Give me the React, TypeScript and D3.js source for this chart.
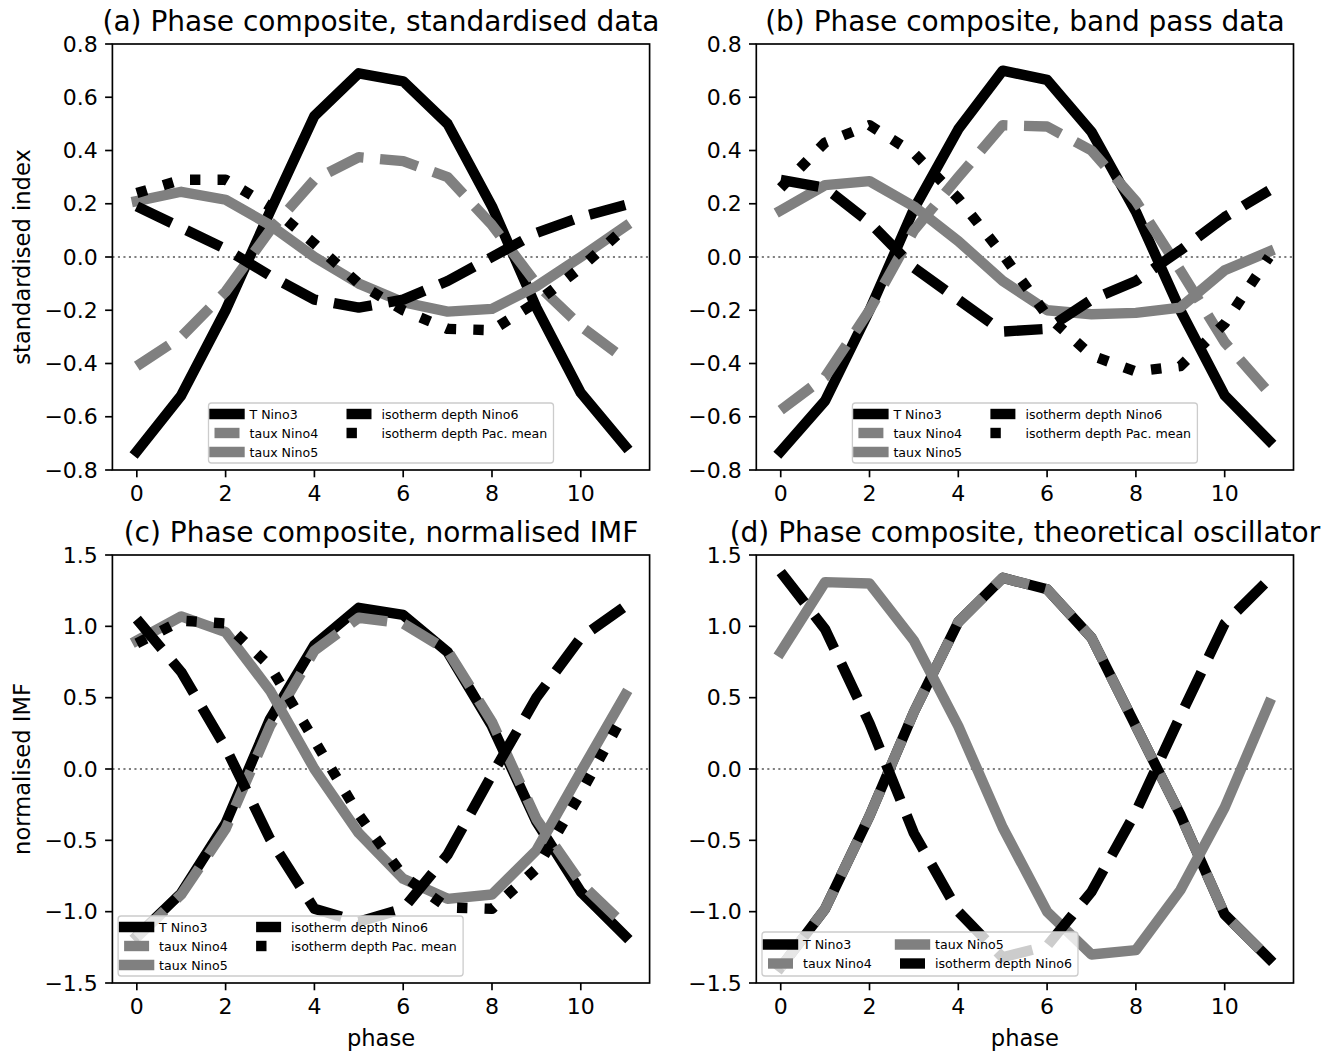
import React from 'react';
import * as d3 from 'd3';

// ---------------- data ----------------
const phases = [0, 1, 2, 3, 4, 5, 6, 7, 8, 9, 10, 11];
const xTicks = [0, 2, 4, 6, 8, 10];
const yTicksStd = [-0.8, -0.6, -0.4, -0.2, 0, 0.2, 0.4, 0.6, 0.8];
const yTicksImf = [-1.5, -1.0, -0.5, 0, 0.5, 1.0, 1.5];

const panelTitles = [
  '(a) Phase composite, standardised data',
  '(b) Phase composite, band pass data',
  '(c) Phase composite, normalised IMF',
  '(d) Phase composite, theoretical oscillator',
];

// (a) standardised data
const aTNino3 = [-0.73, -0.52, -0.2, 0.17, 0.53, 0.69, 0.66, 0.5, 0.19, -0.19, -0.51, -0.71];
const aTauxNino4 = [-0.41, -0.3, -0.13, 0.1, 0.29, 0.375, 0.36, 0.3, 0.12, -0.1, -0.26, -0.385];
const aTauxNino5 = [0.21, 0.245, 0.215, 0.12, 0.0, -0.1, -0.17, -0.205, -0.195, -0.11, 0.0, 0.115];
const aIsoNino6 = [0.19, 0.11, 0.03, -0.07, -0.16, -0.19, -0.16, -0.09, 0.0, 0.09, 0.15, 0.195];
const aIsoPac = [0.24, 0.29, 0.29, 0.19, 0.05, -0.1, -0.2, -0.27, -0.275, -0.17, -0.04, 0.11];

// (b) band pass data
const bTNino3 = [-0.73, -0.54, -0.2, 0.18, 0.48, 0.7, 0.665, 0.47, 0.17, -0.2, -0.52, -0.69];
const bTauxNino4 = [-0.575, -0.45, -0.2, 0.1, 0.3, 0.495, 0.49, 0.4, 0.21, -0.05, -0.32, -0.51];
const bTauxNino5 = [0.175, 0.27, 0.285, 0.19, 0.06, -0.09, -0.2, -0.215, -0.21, -0.19, -0.05, 0.02];
const bIsoNino6 = [0.29, 0.26, 0.13, -0.04, -0.16, -0.28, -0.27, -0.16, -0.09, 0.025, 0.15, 0.25];
const bIsoPac = [0.26, 0.43, 0.495, 0.39, 0.22, 0.01, -0.22, -0.37, -0.43, -0.41, -0.25, 0.0];

// (c) normalised IMF
const cTNino3 = [-1.17, -0.87, -0.38, 0.35, 0.87, 1.13, 1.08, 0.82, 0.3, -0.37, -0.86, -1.17];
const cTauxNino4 = [-1.18, -0.88, -0.42, 0.3, 0.83, 1.06, 1.02, 0.83, 0.33, -0.35, -0.8, -1.1];
const cTauxNino5 = [0.9, 1.07, 0.96, 0.55, 0.0, -0.45, -0.77, -0.91, -0.88, -0.57, -0.02, 0.52];
const cIsoNino6 = [1.05, 0.68, 0.15, -0.49, -0.98, -1.07, -0.98, -0.6, -0.04, 0.5, 0.92, 1.14];
const cIsoPac = [0.88, 1.04, 1.02, 0.72, 0.2, -0.32, -0.75, -0.97, -0.98, -0.7, -0.17, 0.4];

// (d) theoretical oscillator
const dTNino3 = [-1.39, -0.98, -0.33, 0.4, 1.03, 1.34, 1.26, 0.92, 0.3, -0.32, -1.02, -1.33];
const dTauxNino4 = [-1.39, -0.98, -0.33, 0.4, 1.03, 1.34, 1.26, 0.92, 0.3, -0.32, -1.02, -1.33];
const dTauxNino5 = [0.82, 1.31, 1.3, 0.9, 0.3, -0.41, -1.0, -1.3, -1.27, -0.85, -0.27, 0.46];
const dIsoNino6 = [1.38, 0.98, 0.32, -0.45, -1.0, -1.32, -1.24, -0.86, -0.3, 0.37, 1.02, 1.33];

// ---------------- styles ----------------
const LW = 10.4;
const FONT = '"DejaVu Sans", Verdana, sans-serif';
type StyleKey = 'T' | 'T4' | 'T5' | 'H6' | 'HP';
const styles: Record<StyleKey, { label: string; color: string; dash: string | null }> = {
  T: { label: 'T Nino3', color: '#000000', dash: null },
  T4: { label: 'taux Nino4', color: '#808080', dash: `${3.7 * LW} ${1.6 * LW}` },
  T5: { label: 'taux Nino5', color: '#808080', dash: null },
  H6: { label: 'isotherm depth Nino6', color: '#000000', dash: `${3.7 * LW} ${1.6 * LW}` },
  HP: { label: 'isotherm depth Pac. mean', color: '#000000', dash: `${1 * LW} ${1.65 * LW}` },
};

type Panel = {
  title: string;
  ylabel?: string;
  xlabel?: string;
  yDomain: [number, number];
  yTicks: number[];
  series: { key: StyleKey; values: number[] }[];
  legendLoc: 'lower center' | 'lower left';
  legendCols: StyleKey[][];
  legendWidth: number;
  col: number;
  row: number;
};

const panels: Panel[] = [
  {
    title: panelTitles[0], ylabel: 'standardised index', yDomain: [-0.8, 0.8], yTicks: yTicksStd,
    series: [
      { key: 'T', values: aTNino3 }, { key: 'T4', values: aTauxNino4 }, { key: 'T5', values: aTauxNino5 },
      { key: 'H6', values: aIsoNino6 }, { key: 'HP', values: aIsoPac },
    ],
    legendLoc: 'lower center', legendCols: [['T', 'T4', 'T5'], ['H6', 'HP']], legendWidth: 345, col: 0, row: 0,
  },
  {
    title: panelTitles[1], yDomain: [-0.8, 0.8], yTicks: yTicksStd,
    series: [
      { key: 'T', values: bTNino3 }, { key: 'T4', values: bTauxNino4 }, { key: 'T5', values: bTauxNino5 },
      { key: 'H6', values: bIsoNino6 }, { key: 'HP', values: bIsoPac },
    ],
    legendLoc: 'lower center', legendCols: [['T', 'T4', 'T5'], ['H6', 'HP']], legendWidth: 345, col: 1, row: 0,
  },
  {
    title: panelTitles[2], ylabel: 'normalised IMF', xlabel: 'phase', yDomain: [-1.5, 1.5], yTicks: yTicksImf,
    series: [
      { key: 'T', values: cTNino3 }, { key: 'T4', values: cTauxNino4 }, { key: 'T5', values: cTauxNino5 },
      { key: 'H6', values: cIsoNino6 }, { key: 'HP', values: cIsoPac },
    ],
    legendLoc: 'lower left', legendCols: [['T', 'T4', 'T5'], ['H6', 'HP']], legendWidth: 345, col: 0, row: 1,
  },
  {
    title: panelTitles[3], xlabel: 'phase', yDomain: [-1.5, 1.5], yTicks: yTicksImf,
    series: [
      { key: 'T', values: dTNino3 }, { key: 'T4', values: dTauxNino4 }, { key: 'T5', values: dTauxNino5 },
      { key: 'H6', values: dIsoNino6 },
    ],
    legendLoc: 'lower left', legendCols: [['T', 'T4'], ['T5', 'H6']], legendWidth: 316, col: 1, row: 1,
  },
];

// ---------------- layout ----------------
const colLeft = [112.4, 756.3];
const axW = 537.2;
const rowTop = [44, 555];
const rowH = [426, 428];
const TICK_FS = 22;
const LABEL_FS = 22.6;
const TITLE_FS = 28;
const LEG_FS = 12.6;
const TICK_LEN = 7.3;

function Legend({ p, left, bottom, width }: { p: Panel; left: number; bottom: number; width: number }) {
  const nRows = Math.max(...p.legendCols.map((c) => c.length));
  const pitch = 19;
  const h = nRows === 3 ? 60 : 44;
  const bx = p.legendLoc === 'lower center' ? left + width / 2 - p.legendWidth / 2 : left + 5.7;
  const by = bottom - 7 - h;
  const firstRow = by + (h - (nRows - 1) * pitch) / 2;
  const colHandle = [6, 138];
  const colText = [41, 173];
  return (
    <g>
      <rect x={bx} y={by} width={p.legendWidth} height={h} rx={3} ry={3}
        fill="#ffffff" fillOpacity={0.8} stroke="#cccccc" strokeWidth={1.3} />
      {p.legendCols.map((col, ci) =>
        col.map((k, ri) => {
          const s = styles[k];
          const yy = firstRow + ri * pitch;
          return (
            <g key={`${ci}-${ri}`}>
              <line x1={bx + colHandle[ci]} x2={bx + colHandle[ci] + 25} y1={yy} y2={yy}
                stroke={s.color} strokeWidth={LW} strokeDasharray={s.dash ?? undefined}
                strokeLinecap={s.dash ? 'butt' : 'square'} />
              <text x={bx + colText[ci]} y={yy} dominantBaseline="central" fontSize={LEG_FS}
                fontFamily={FONT} fill="#000">{s.label}</text>
            </g>
          );
        })
      )}
    </g>
  );
}

function PanelView({ p, idx }: { p: Panel; idx: number }) {
  const left = colLeft[p.col];
  const top = rowTop[p.row];
  const h = rowH[p.row];
  const right = left + axW;
  const bottom = top + h;
  const x = d3.scaleLinear().domain([-0.55, 11.55]).range([left, right]);
  const y = d3.scaleLinear().domain(p.yDomain).range([bottom, top]);
  const line = d3.line<number>().x((_, i) => x(phases[i])).y((d) => y(d));
  const fmt = d3.format('.1f');
  const clipId = `clip${idx}`;
  return (
    <g>
      <defs>
        <clipPath id={clipId}>
          <rect x={left} y={top} width={axW} height={h} />
        </clipPath>
      </defs>
      <g clipPath={`url(#${clipId})`}>
        <line x1={left} x2={right} y1={y(0)} y2={y(0)} stroke="#808080" strokeWidth={2.1}
          strokeDasharray="2.1 3.4" />
        {p.series.map((s, i) => {
          const st = styles[s.key];
          return (
            <path key={i} d={line(s.values) ?? ''} fill="none" stroke={st.color} strokeWidth={LW}
              strokeLinejoin="round" strokeLinecap={st.dash ? 'butt' : 'square'}
              strokeDasharray={st.dash ?? undefined} />
          );
        })}
      </g>
      <Legend p={p} left={left} bottom={bottom} width={axW} />
      <rect x={left} y={top} width={axW} height={h} fill="none" stroke="#000" strokeWidth={1.67} />
      {p.yTicks.map((t) => (
        <g key={`y${t}`}>
          <line x1={left - TICK_LEN} x2={left} y1={y(t)} y2={y(t)} stroke="#000" strokeWidth={1.67} />
          <text x={left - TICK_LEN - 7.3} y={y(t)} textAnchor="end" dominantBaseline="central"
            fontSize={TICK_FS} fontFamily={FONT} fill="#000">{fmt(t)}</text>
        </g>
      ))}
      {xTicks.map((t) => (
        <g key={`x${t}`}>
          <line x1={x(t)} x2={x(t)} y1={bottom} y2={bottom + TICK_LEN} stroke="#000" strokeWidth={1.67} />
          <text x={x(t)} y={bottom + TICK_LEN + 7.3} textAnchor="middle" dominantBaseline="hanging"
            fontSize={TICK_FS} fontFamily={FONT} fill="#000">{String(t)}</text>
        </g>
      ))}
      <text x={(left + right) / 2} y={top - 13} textAnchor="middle" fontSize={TITLE_FS}
        fontFamily={FONT} fill="#000">{p.title}</text>
      {p.ylabel && (
        <text transform={`translate(${22},${(top + bottom) / 2}) rotate(-90)`} textAnchor="middle"
          dominantBaseline="central" fontSize={LABEL_FS} fontFamily={FONT} fill="#000">{p.ylabel}</text>
      )}
      {p.xlabel && (
        <text x={(left + right) / 2} y={1038} textAnchor="middle" dominantBaseline="central"
          fontSize={LABEL_FS} fontFamily={FONT} fill="#000">{p.xlabel}</text>
      )}
    </g>
  );
}

export default function App() {
  return (
    <div style={{ position: 'absolute', left: 0, top: 0 }}>
      <svg width={1335} height={1053} viewBox="0 0 1335 1053" style={{ display: 'block', background: '#fff' }}>
        <rect x={0} y={0} width={1335} height={1053} fill="#fff" />
        {panels.map((p, i) => (
          <PanelView key={i} p={p} idx={i} />
        ))}
      </svg>
    </div>
  );
}
